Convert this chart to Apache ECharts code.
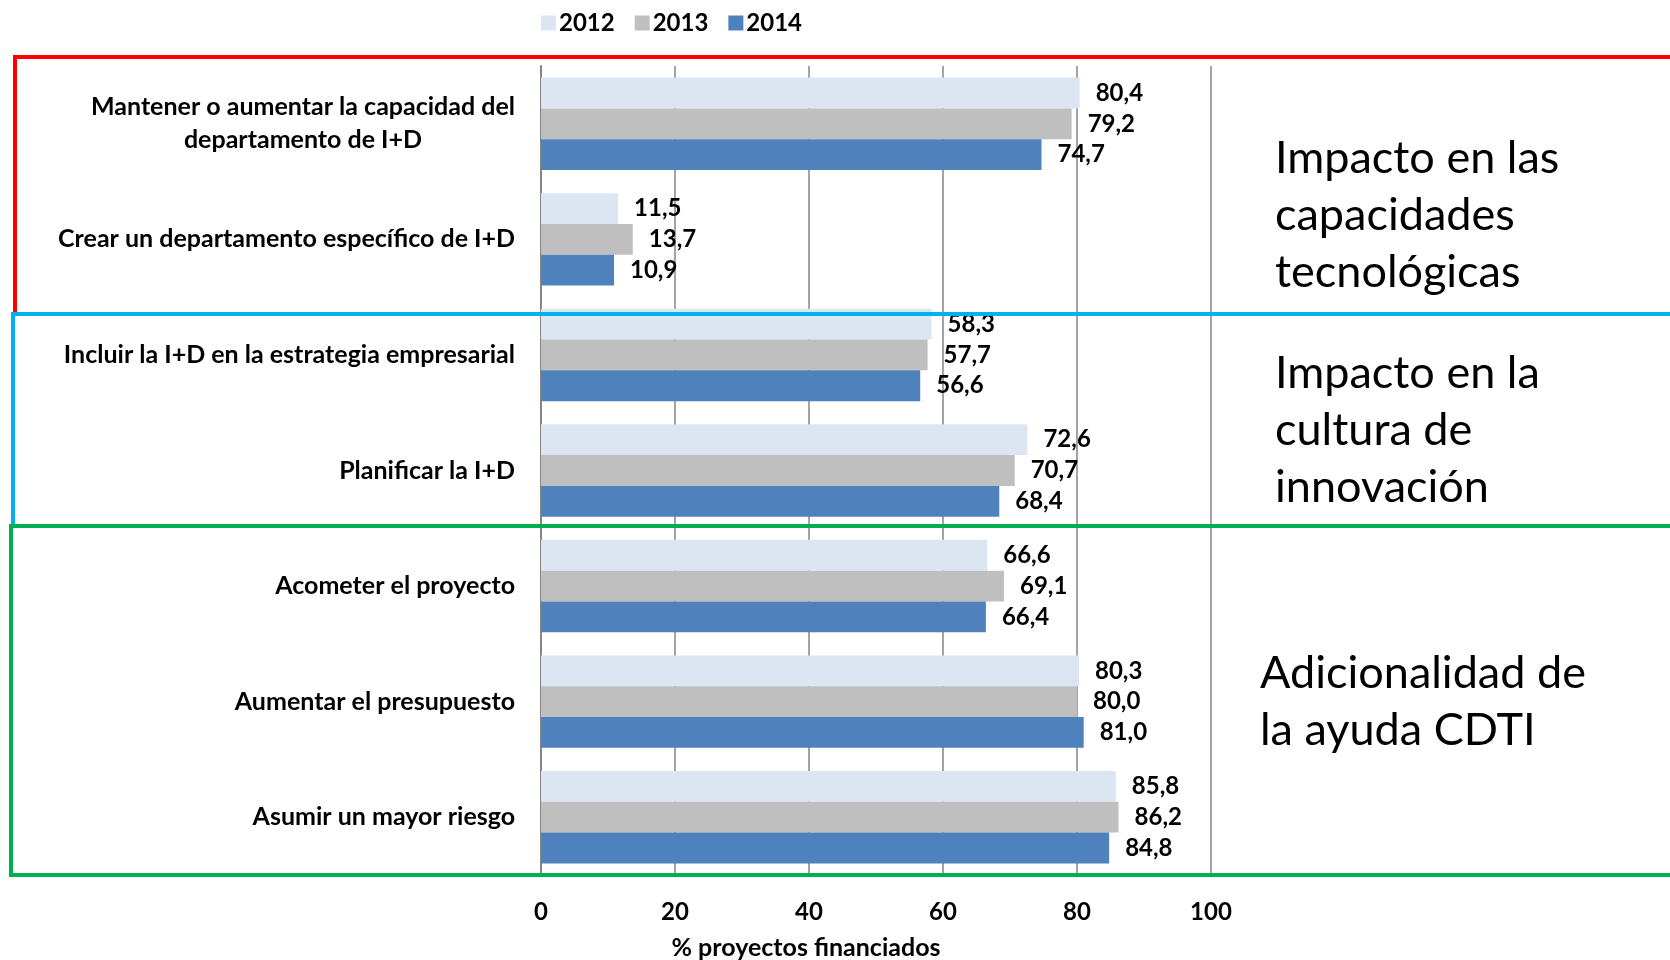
<!DOCTYPE html>
<html>
<head>
<meta charset="utf-8">
<script src="https://cdn.jsdelivr.net/npm/echarts@6/dist/echarts.min.js"></script>
<style>
html,body{margin:0;padding:0;background:#fff;}
#chart{width:1670px;height:960px;}
</style>
</head>
<body>
<div id="chart"></div>
<script>
const categories = [
  'Mantener o aumentar la capacidad del\ndepartamento de I+D',
  'Crear un departamento específico de I+D',
  'Incluir la I+D en la estrategia empresarial',
  'Planificar la I+D',
  'Acometer el proyecto',
  'Aumentar el presupuesto',
  'Asumir un mayor riesgo'
];
const years = ['2012', '2013', '2014'];
const v2012 = [80.4, 11.5, 58.3, 72.6, 66.6, 80.3, 85.8];
const v2013 = [79.2, 13.7, 57.7, 70.7, 69.1, 80.0, 86.2];
const v2014 = [74.7, 10.9, 56.6, 68.4, 66.4, 81.0, 84.8];
const axisMin = 0, axisMax = 100, axisStep = 20;
const axisTitle = '% proyectos financiados';
const groupLabels = [
  'Impacto en las\ncapacidades\ntecnológicas',
  'Impacto en la\ncultura de\ninnovación',
  'Adicionalidad de\nla ayuda CDTI'
];

const colors = ['#DCE6F2', '#BFBFBF', '#4F81BD'];
const FONT = 'Lato';
const values = [v2012, v2013, v2014];

const chart = echarts.init(document.getElementById('chart'), null, {renderer: 'canvas'});

const series = years.map((y, i) => ({
  name: y,
  type: 'bar',
  data: values[i],
  barGap: '0%',
  barCategoryGap: '20%',
  itemStyle: {color: colors[i]},
  label: {
    show: true,
    position: 'right',
    distance: 16,
    color: '#000',
    fontFamily: FONT,
    fontWeight: 'bold',
    fontSize: 24,
    formatter: p => p.value.toFixed(1).replace('.', ',')
  }
}));

const option = {
  animation: false,
  backgroundColor: '#fff',
  legend: {
    data: years,
    top: 6,
    left: 536,
    itemWidth: 15,
    itemHeight: 15,
    itemGap: 20,
    icon: 'rect',
    textStyle: {fontFamily: FONT, fontWeight: 'bold', fontSize: 24, color: '#000', padding: [0, 0, 0, -2]}
  },
  grid: {left: 541, right: 459, top: 66, bottom: 85, containLabel: false, outerBoundsMode: 'none'},
  xAxis: {
    type: 'value',
    min: axisMin, max: axisMax, interval: axisStep,
    name: axisTitle,
    nameLocation: 'middle',
    nameGap: 60,
    nameTextStyle: {fontFamily: FONT, fontWeight: 'bold', fontSize: 25, color: '#000', padding: [0, 140, 0, 0]},
    axisLine: {show: true, lineStyle: {color: '#868686', width: 2}},
    axisTick: {show: false},
    splitLine: {show: true, lineStyle: {color: '#868686', width: 1.5}},
    axisLabel: {margin: 25, fontFamily: FONT, fontWeight: 'bold', fontSize: 24, color: '#000'}
  },
  yAxis: {
    type: 'category',
    inverse: true,
    data: categories,
    axisLine: {show: true, lineStyle: {color: '#868686', width: 2}},
    axisTick: {show: false},
    axisLabel: {
      margin: 26,
      align: 'right',
      fontFamily: FONT, fontWeight: 'bold', fontSize: 25, color: '#000',
      lineHeight: 33,
      formatter: v => v.split('\n').map(s => '{c|' + s + '}').join('\n'),
      rich: {c: {align: 'center', fontFamily: FONT, fontWeight: 'bold', fontSize: 25, color: '#000', lineHeight: 33}}
    }
  },
  series: series,
  graphic: [
    {type: 'rect', z: 100, shape: {x: 15, y: 57, width: 1700, height: 257}, style: {fill: 'none', stroke: '#FF0000', lineWidth: 4}},
    {type: 'rect', z: 101, shape: {x: 13, y: 314, width: 1700, height: 212}, style: {fill: 'none', stroke: '#00B0F0', lineWidth: 4}},
    {type: 'rect', z: 102, shape: {x: 11, y: 526, width: 1700, height: 349}, style: {fill: 'none', stroke: '#00B050', lineWidth: 4}},
    {type: 'text', z: 103, left: 1275, top: 130, style: {text: groupLabels[0], font: '45px ' + FONT, fill: '#000', lineHeight: 57}},
    {type: 'text', z: 103, left: 1275, top: 345, style: {text: groupLabels[1], font: '45px ' + FONT, fill: '#000', lineHeight: 57}},
    {type: 'text', z: 103, left: 1260, top: 645, style: {text: groupLabels[2], font: '45px ' + FONT, fill: '#000', lineHeight: 57}}
  ]
};
chart.setOption(option);
</script>
</body>
</html>
